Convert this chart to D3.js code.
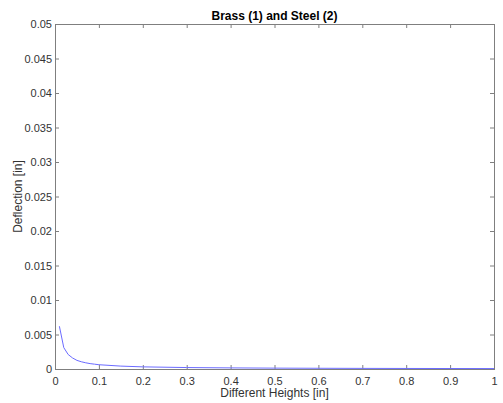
<!DOCTYPE html>
<html>
<head>
<meta charset="utf-8">
<script src="https://cdn.jsdelivr.net/npm/d3@7"></script>
<style>
  body { margin: 0; background: #fff; }
  text { font-family: "Liberation Sans", Arial, Helvetica, sans-serif; }
</style>
</head>
<body>
<svg width="503" height="403"></svg>
<script>
// Data
const heights = [0.01, 0.02, 0.03, 0.04, 0.05, 0.06, 0.07, 0.08, 0.09, 0.1,
                 0.15, 0.2, 0.3, 0.4, 0.5, 0.6, 0.7, 0.8, 0.9, 1.0];
const deflection = [0.0062, 0.0031, 0.0021, 0.0016, 0.00125, 0.00105, 0.0009, 0.00078, 0.0007, 0.00062,
                    0.00042, 0.00031, 0.00021, 0.00016, 0.000125, 0.000105, 0.00009, 0.000078, 0.00007, 0.000062];
const xTicks = [0, 0.1, 0.2, 0.3, 0.4, 0.5, 0.6, 0.7, 0.8, 0.9, 1];
const yTicks = [0, 0.005, 0.01, 0.015, 0.02, 0.025, 0.03, 0.035, 0.04, 0.045, 0.05];

const width = 503;
const height = 403;
const margin = { top: 24, right: 9, bottom: 34, left: 55 };
const axisColor = "#7f7f7f";
const textColor = "#333";

const svg = d3.select("svg");

const xScale = d3.scaleLinear()
    .domain([0, 1])
    .range([margin.left, width - margin.right]);

const yScale = d3.scaleLinear()
    .domain([0, 0.05])
    .range([height - margin.bottom, margin.top]);

// Box with inward ticks (MATLAB style)
function styleAxis(g) {
    g.selectAll("path").attr("stroke", axisColor);
    g.selectAll("line").attr("stroke", axisColor);
    g.selectAll("text").attr("fill", textColor).style("font-size", "11px");
}

const fmt = d => String(d);

// bottom
svg.append("g")
    .attr("transform", `translate(0, ${yScale(0)})`)
    .call(d3.axisBottom(xScale).tickValues(xTicks).tickFormat(fmt)
        .tickSizeInner(-4).tickSizeOuter(0).tickPadding(8))
    .call(styleAxis)
    .call(g => g.select(".domain").remove());

// top
svg.append("g")
    .attr("transform", `translate(0, ${yScale(0.05)})`)
    .call(d3.axisTop(xScale).tickValues(xTicks).tickFormat("")
        .tickSizeInner(-4).tickSizeOuter(0))
    .call(styleAxis)
    .call(g => g.select(".domain").remove());

// left
svg.append("g")
    .attr("transform", `translate(${xScale(0)}, 0)`)
    .call(d3.axisLeft(yScale).tickValues(yTicks).tickFormat(fmt)
        .tickSizeInner(-4).tickSizeOuter(0).tickPadding(3))
    .call(styleAxis)
    .call(g => g.select(".domain").remove());

// right
svg.append("g")
    .attr("transform", `translate(${xScale(1)}, 0)`)
    .call(d3.axisRight(yScale).tickValues(yTicks).tickFormat("")
        .tickSizeInner(-4).tickSizeOuter(0))
    .call(styleAxis)
    .call(g => g.select(".domain").remove());

// frame
svg.append("rect")
    .attr("x", xScale(0) + 0.5)
    .attr("y", yScale(0.05) + 0.5)
    .attr("width", xScale(1) - xScale(0))
    .attr("height", yScale(0) - yScale(0.05))
    .attr("fill", "none")
    .attr("stroke", axisColor);

// Curve
const line = d3.line()
    .x((d, i) => xScale(heights[i]))
    .y(d => yScale(d));

svg.append("path")
    .datum(deflection)
    .attr("d", line)
    .attr("fill", "none")
    .attr("stroke", "#6b6bff")
    .attr("stroke-width", 1);

// Title
svg.append("text")
    .attr("x", (xScale(0) + xScale(1)) / 2)
    .attr("y", 20)
    .attr("text-anchor", "middle")
    .style("font-size", "12px")
    .style("font-weight", "bold")
    .attr("fill", "#000")
    .text("Brass (1) and Steel (2)");

// x-axis label
svg.append("text")
    .attr("x", (xScale(0) + xScale(1)) / 2)
    .attr("y", 397)
    .attr("text-anchor", "middle")
    .style("font-size", "12px")
    .attr("fill", textColor)
    .text("Different Heights [in]");

// y-axis label
svg.append("text")
    .attr("x", -(yScale(0) + yScale(0.05)) / 2)
    .attr("y", 22)
    .attr("transform", "rotate(-90)")
    .attr("text-anchor", "middle")
    .style("font-size", "12px")
    .attr("fill", textColor)
    .text("Deflection [in]");
</script>
</body>
</html>
